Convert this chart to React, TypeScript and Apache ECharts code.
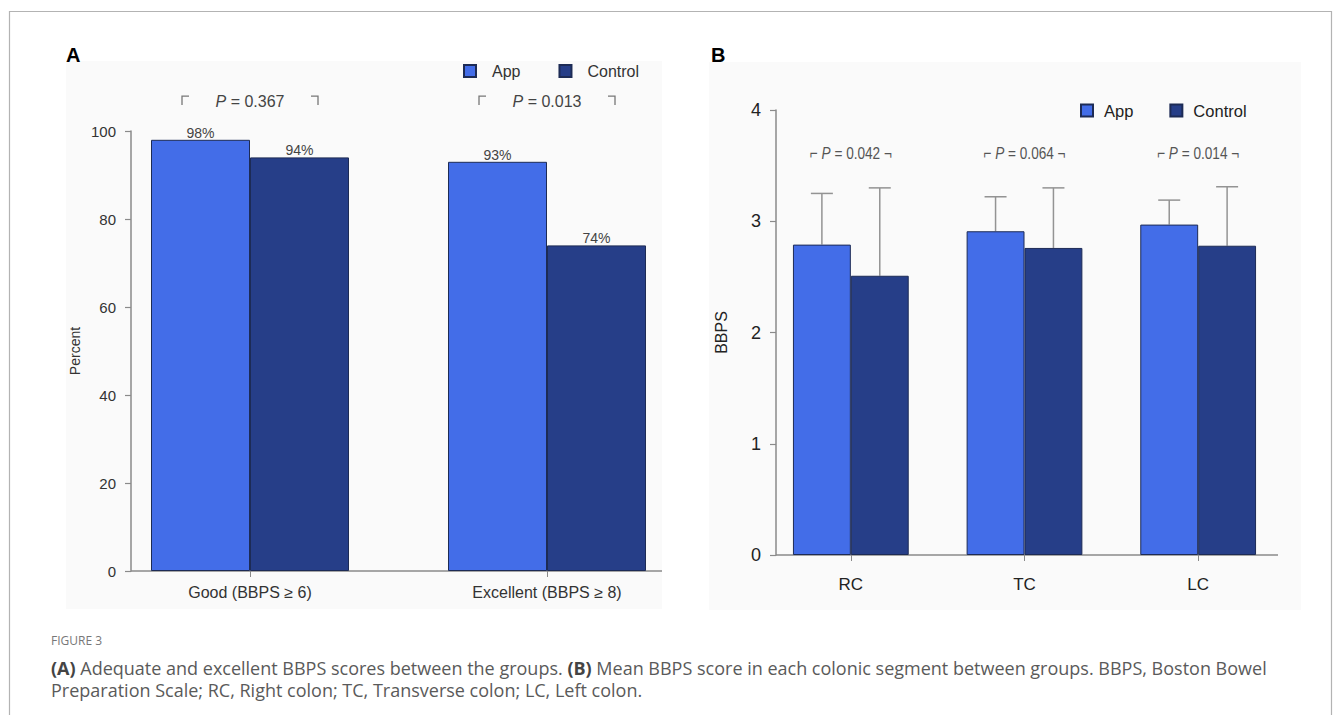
import React, { useEffect, useRef } from "react";
import * as echarts from "echarts";

// ---------- Data ----------
const categoriesA = ["Good (BBPS \u2265 6)", "Excellent (BBPS \u2265 8)"];
const appPercentA = [98, 93];
const controlPercentA = [94, 74];
const pValuesA = ["0.367", "0.013"];

const categoriesB = ["RC", "TC", "LC"];
const appMeanB = [2.79, 2.91, 2.97];
const appSdB = [0.46, 0.31, 0.22];
const controlMeanB = [2.51, 2.76, 2.78];
const controlSdB = [0.79, 0.54, 0.53];
const pValuesB = ["0.042", "0.064", "0.014"];

const seriesNames = ["App", "Control"];

// ---------- Styles ----------
const APP_COLOR = "#436de8";
const CTRL_COLOR = "#263e88";
const BAR_BORDER = "#1d2b55";
const AXIS_COLOR = "#8a8a8a";
const FONT_A = "'Liberation Sans', Arial, Helvetica, sans-serif";
const FONT_B = "'Liberation Sans Narrow', 'Arial Narrow', 'Liberation Sans', sans-serif";
const CAP_FONT = "'Open Sans', 'Noto Sans', sans-serif";

const GAP_A = 1 / 3;
const GAP_B = 1 / 3;
const P_LEVEL_A = 106.8;
const P_LEVEL_B = 3.61;

export default function App() {
  const ref = useRef<HTMLDivElement>(null);

  useEffect(() => {
    if (!ref.current) return;
    const chart = echarts.init(ref.current, undefined, { renderer: "svg" });

    const errorBarRender = (side: number) => (params: any, api: any) => {
      const idx = api.value(0);
      const mean = api.value(1);
      const upper = api.value(2);
      const band = api.size([1, 0])[0];
      const barW = (band * (1 - GAP_B)) / 2;
      const base = api.coord([idx, mean]);
      const top = api.coord([idx, upper]);
      const x = base[0] + (side * barW) / 2;
      return {
        type: "group",
        children: [
          {
            type: "line",
            shape: { x1: x, y1: base[1], x2: x, y2: top[1] },
            style: { stroke: "#939393", lineWidth: 1.5 },
          },
          {
            type: "line",
            shape: { x1: x - 11, y1: top[1], x2: x + 11, y2: top[1] },
            style: { stroke: "#939393", lineWidth: 1.5 },
          },
        ],
      };
    };

    const pRenderA = (params: any, api: any) => {
      const pt = api.coord([api.value(0), api.value(1)]);
      const cx = pt[0];
      const cy = pt[1];
      const br = { stroke: "#777", lineWidth: 1.3, fill: "none" };
      return {
        type: "group",
        children: [
          {
            type: "polyline",
            shape: { points: [[cx - 68, cy + 4], [cx - 68, cy - 5], [cx - 61, cy - 5]] },
            style: br,
          },
          {
            type: "polyline",
            shape: { points: [[cx + 61, cy - 5], [cx + 68, cy - 5], [cx + 68, cy + 4]] },
            style: br,
          },
          {
            type: "text",
            x: cx,
            y: cy,
            style: {
              text: "{i|P} = " + pValuesA[params.dataIndex],
              align: "center",
              verticalAlign: "middle",
              fill: "#444",
              font: `16px ${FONT_A}`,
              rich: { i: { fontStyle: "italic", fontSize: 16, fontFamily: FONT_A, fill: "#444" } },
            },
          },
        ],
      };
    };

    const pRenderB = (params: any, api: any) => {
      const pt = api.coord([api.value(0), api.value(1)]);
      return {
        type: "text",
        x: pt[0],
        y: pt[1],
        scaleX: 0.8,
        style: {
          text: "\u2310 {i|P} = " + pValuesB[params.dataIndex] + " \u00ac",
          align: "center",
          verticalAlign: "middle",
          fill: "#555",
          font: `17px ${FONT_B}`,
          rich: { i: { fontStyle: "italic", fontSize: 17, fontFamily: FONT_B, fill: "#555" } },
        },
      };
    };

    const valueLabel = {
      show: true,
      position: "top",
      distance: 0,
      formatter: "{c}%",
      color: "#444",
      fontSize: 14,
      fontFamily: FONT_A,
    };

    const yAxisCommon = {
      type: "value",
      splitLine: { show: false },
      axisLine: { show: true, lineStyle: { color: AXIS_COLOR, width: 1.5 } },
      axisTick: { show: true, length: 6, lineStyle: { color: AXIS_COLOR, width: 1.2 } },
      nameLocation: "middle",
      nameRotate: 90,
    };

    const option: any = {
      animation: false,
      backgroundColor: "#ffffff",
      grid: [
        { left: 101.5, top: 131, width: 594, height: 440 },
        { left: 764, top: 110, width: 521, height: 445 },
      ],
      xAxis: [
        {
          type: "category",
          gridIndex: 0,
          data: categoriesA,
          axisLine: { show: false },
          axisTick: { show: true, alignWithLabel: true, length: 6, lineStyle: { color: AXIS_COLOR } },
          axisLabel: { color: "#333", fontSize: 16, fontFamily: FONT_A, margin: 13 },
        },
        {
          type: "category",
          gridIndex: 1,
          data: categoriesB,
          axisLine: { show: false },
          axisTick: { show: true, alignWithLabel: true, length: 6, lineStyle: { color: AXIS_COLOR } },
          axisLabel: { color: "#222", fontSize: 17, fontFamily: FONT_B, margin: 21 },
        },
      ],
      yAxis: [
        {
          ...yAxisCommon,
          gridIndex: 0,
          min: 0,
          max: 100,
          interval: 20,
          offset: -29.5,
          name: "Percent",
          nameGap: 49,
          nameTextStyle: { color: "#333", fontSize: 14, fontFamily: FONT_A },
          axisLabel: { color: "#333", fontSize: 15, fontFamily: FONT_A, margin: 15 },
        },
        {
          ...yAxisCommon,
          gridIndex: 1,
          min: 0,
          max: 4,
          interval: 1,
          offset: -12,
          name: "BBPS",
          nameGap: 47,
          nameTextStyle: { color: "#222", fontSize: 16, fontFamily: FONT_B },
          axisLabel: { color: "#222", fontSize: 18, fontFamily: FONT_B, margin: 15 },
        },
      ],
      legend: [
        {
          data: seriesNames,
          left: 463,
          top: 63,
          padding: 0,
          itemWidth: 12,
          itemHeight: 12,
          itemGap: 38,
          icon: "rect",
          textStyle: { color: "#333", fontSize: 16, fontFamily: FONT_A, padding: [0, 0, 0, 11] },
        },
        {
          data: seriesNames,
          left: 1080,
          top: 102,
          padding: 0,
          itemWidth: 12,
          itemHeight: 12,
          itemGap: 36,
          icon: "rect",
          textStyle: { color: "#222", fontSize: 16.5, fontFamily: FONT_B, padding: [0, 0, 0, 6] },
        },
      ],
      series: [
        {
          name: "App",
          type: "bar",
          xAxisIndex: 0,
          yAxisIndex: 0,
          data: appPercentA,
          barGap: "0%",
          barCategoryGap: `${GAP_A * 100}%`,
          itemStyle: { color: APP_COLOR, borderColor: BAR_BORDER, borderWidth: 1 },
          label: valueLabel,
        },
        {
          name: "Control",
          type: "bar",
          xAxisIndex: 0,
          yAxisIndex: 0,
          data: controlPercentA,
          barGap: "0%",
          barCategoryGap: `${GAP_A * 100}%`,
          itemStyle: { color: CTRL_COLOR, borderColor: BAR_BORDER, borderWidth: 1 },
          label: valueLabel,
        },
        {
          name: "pA",
          type: "custom",
          xAxisIndex: 0,
          yAxisIndex: 0,
          data: pValuesA.map((_, i) => [i, P_LEVEL_A]),
          renderItem: pRenderA,
          silent: true,
        },
        {
          name: "App",
          type: "bar",
          xAxisIndex: 1,
          yAxisIndex: 1,
          data: appMeanB,
          barGap: "0%",
          barCategoryGap: `${GAP_B * 100}%`,
          itemStyle: { color: APP_COLOR, borderColor: BAR_BORDER, borderWidth: 1 },
        },
        {
          name: "Control",
          type: "bar",
          xAxisIndex: 1,
          yAxisIndex: 1,
          data: controlMeanB,
          barGap: "0%",
          barCategoryGap: `${GAP_B * 100}%`,
          itemStyle: { color: CTRL_COLOR, borderColor: BAR_BORDER, borderWidth: 1 },
        },
        {
          name: "errApp",
          type: "custom",
          xAxisIndex: 1,
          yAxisIndex: 1,
          data: appMeanB.map((m, i) => [i, m, m + appSdB[i]]),
          renderItem: errorBarRender(-1),
          silent: true,
        },
        {
          name: "errControl",
          type: "custom",
          xAxisIndex: 1,
          yAxisIndex: 1,
          data: controlMeanB.map((m, i) => [i, m, m + controlSdB[i]]),
          renderItem: errorBarRender(1),
          silent: true,
        },
        {
          name: "pB",
          type: "custom",
          xAxisIndex: 1,
          yAxisIndex: 1,
          data: pValuesB.map((_, i) => [i, P_LEVEL_B]),
          renderItem: pRenderB,
          silent: true,
        },
      ],
      graphic: [
        {
          type: "rect",
          z: -10,
          shape: { x: 9.5, y: 11.5, width: 1322, height: 720 },
          style: { fill: "#ffffff", stroke: "#b3b3b3", lineWidth: 1.2 },
        },
        {
          type: "rect",
          z: -9,
          shape: { x: 66, y: 61, width: 596, height: 548 },
          style: { fill: "#fafafa" },
        },
        {
          type: "rect",
          z: -9,
          shape: { x: 709, y: 62, width: 592, height: 548 },
          style: { fill: "#fafafa" },
        },
        {
          type: "text",
          left: 66,
          top: 45,
          style: { text: "A", font: `bold 20px ${FONT_A}`, fill: "#000" },
        },
        {
          type: "text",
          left: 711,
          top: 45,
          style: { text: "B", font: `bold 20px ${FONT_A}`, fill: "#000" },
        },
        {
          type: "line",
          shape: { x1: 131, y1: 571, x2: 662, y2: 571 },
          style: { stroke: AXIS_COLOR, lineWidth: 1.5 },
        },
        {
          type: "line",
          shape: { x1: 776, y1: 555, x2: 1278, y2: 555 },
          style: { stroke: AXIS_COLOR, lineWidth: 1.5 },
        },
        {
          type: "text",
          left: 51,
          top: 634,
          style: { text: "FIGURE 3", font: `12px ${CAP_FONT}`, fill: "#777" },
        },
        {
          type: "text",
          left: 51,
          top: 657,
          style: {
            text:
              "{b|(A)} Adequate and excellent BBPS scores between the groups. {b|(B)} Mean BBPS score in each colonic segment between groups. BBPS, Boston Bowel\nPreparation Scale; RC, Right colon; TC, Transverse colon; LC, Left colon.",
            font: `18px ${CAP_FONT}`,
            fill: "#5a5a5a",
            lineHeight: 22,
            rich: {
              b: { fontWeight: "bold", fontSize: 18, fontFamily: CAP_FONT, fill: "#444", lineHeight: 22 },
            },
          },
        },
      ],
    };

    chart.setOption(option);
    return () => chart.dispose();
  }, []);

  return (
    <div
      ref={ref}
      style={{ position: "absolute", left: 0, top: 0, width: 1333, height: 715 }}
    />
  );
}
